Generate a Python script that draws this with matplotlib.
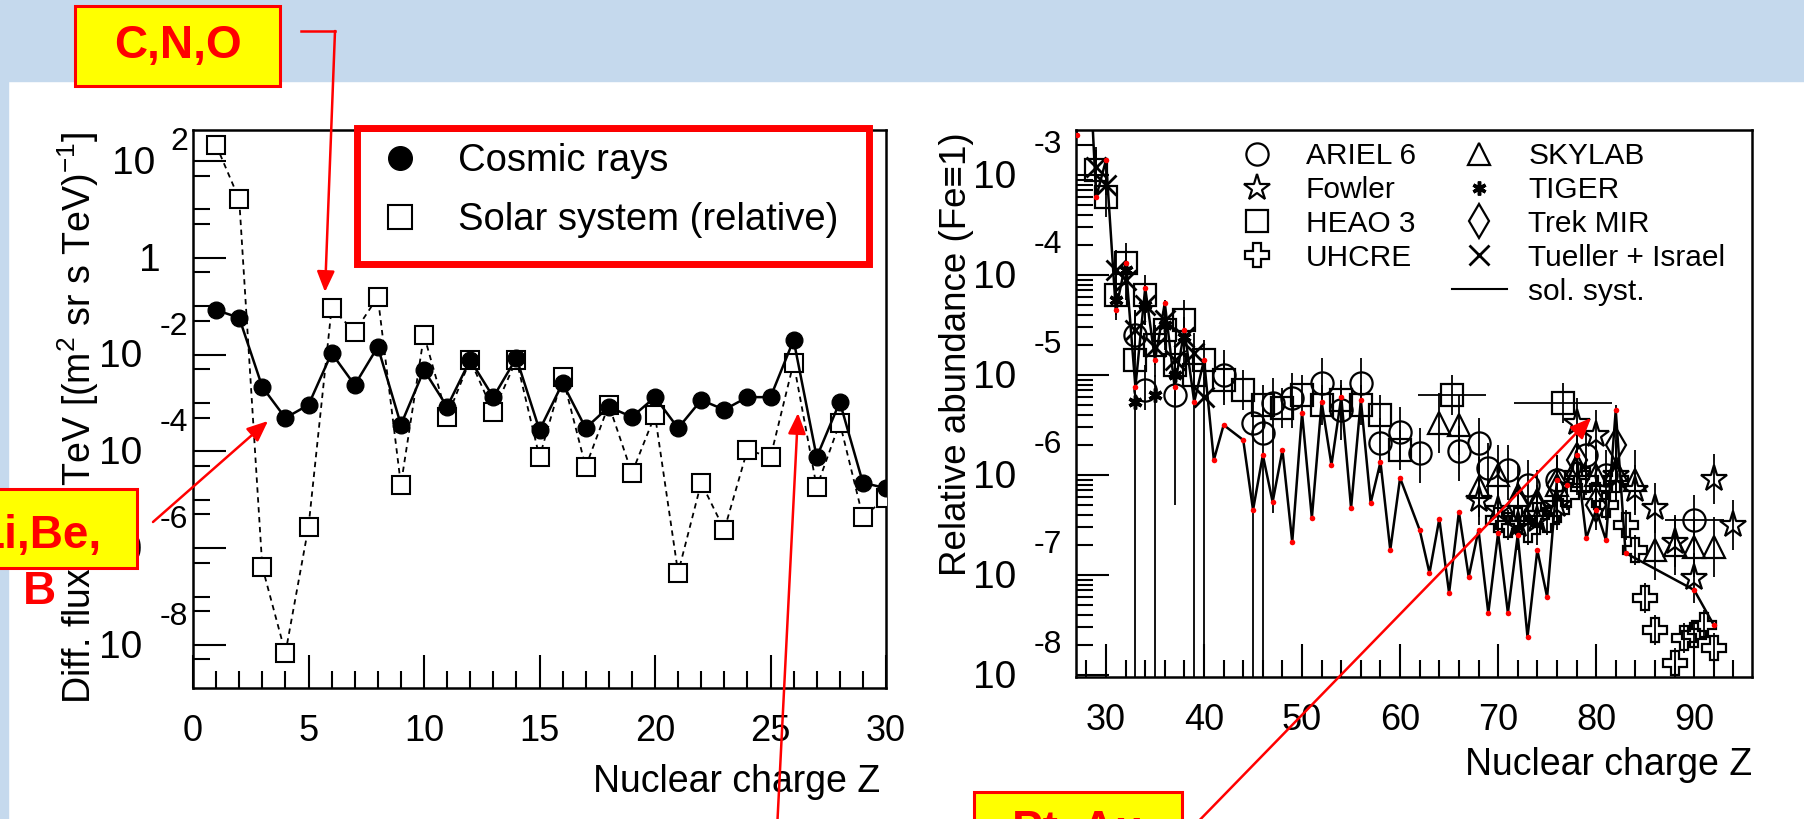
import matplotlib
matplotlib.use('Agg')
import matplotlib.pyplot as plt
import matplotlib.transforms as mtransforms
from matplotlib.patches import Rectangle, FancyArrowPatch
from matplotlib.lines import Line2D
from matplotlib.ticker import FixedLocator, MultipleLocator, NullFormatter

plt.rcParams['font.family'] = ['Liberation Sans', 'DejaVu Sans']
plt.rcParams['mathtext.fontset'] = 'custom'
plt.rcParams['mathtext.rm'] = 'Liberation Sans'
plt.rcParams['mathtext.it'] = 'Liberation Sans:italic'

W, H = 1804, 819

# ---- left panel: flux at 1 TeV (log10 values) ----
z_left = list(range(1, 31))
cosmic_log = [-1.08, -1.24, -2.67, -3.31, -3.04, -1.97, -2.63, -1.84, -3.45, -2.32,
              -3.08, -2.11, -2.88, -2.07, -3.56, -2.59, -3.52, -3.08, -3.29, -2.88,
              -3.52, -2.94, -3.14, -2.88, -2.88, -1.70, -4.12, -2.98, -4.65, -4.76]
solar_log = [2.33, 1.21, -6.39, -8.17, -5.56, -1.04, -1.53, -0.81, -4.69, -1.60,
             -3.29, -2.11, -3.19, -2.11, -4.12, -2.46, -4.32, -3.04, -4.45, -3.25,
             -6.51, -4.65, -5.62, -3.97, -4.12, -2.17, -4.74, -3.41, -5.36, -4.96]
left_decades = [2, 0, -2, -4, -6, -8]

# ---- right panel: abundance relative to Fe (log10 values) ----
sol_z = [27, 28, 29, 30, 31, 32, 33, 34, 35, 36, 37, 38, 39, 40, 41, 42, 44, 45, 46, 47,
         48, 49, 50, 51, 52, 53, 54, 55, 56, 57, 58, 59, 60, 62, 63, 64, 65, 66, 67, 68,
         69, 70, 71, 72, 73, 74, 75, 76, 77, 78, 79, 80, 81, 82, 83, 90, 92]
sol_log = [-2.60, -1.26, -3.22, -2.85, -4.35, -3.88, -5.12, -4.13, -4.85, -4.28, -5.12,
           -4.55, -5.27, -4.85, -5.85, -5.50, -5.65, -6.35, -5.80, -6.27, -5.75, -6.67,
           -5.38, -6.43, -5.27, -5.90, -5.22, -6.33, -5.25, -6.28, -5.87, -6.75, -6.03,
           -6.55, -6.98, -6.44, -7.18, -6.37, -7.02, -6.55, -7.38, -6.58, -7.38, -6.60,
           -7.62, -6.75, -7.22, -6.05, -6.10, -5.80, -6.63, -6.35, -6.65, -5.35, -6.78,
           -7.15, -7.50]

ariel_z = [33, 34, 37, 42, 45, 46, 47, 49, 52, 54, 56, 58, 60, 62, 66, 68, 69, 71, 73, 76, 79, 81, 90]
ariel_log = [-4.60, -5.15, -5.20, -5.00, -5.48, -5.58, -5.28, -5.23, -5.08, -5.35, -5.08, -5.68,
             -5.57, -5.78, -5.76, -5.68, -5.93, -5.95, -6.10, -6.05, -5.80, -6.00, -6.45]
ariel_lo = [0.2, 0.2, 1.1, 0.3, 5, 5, 1.1, 0.3, 0.2, 0.3, 0.2, 0.3, 0.3, 0.3, 0.3, 0.3, 0.3,
            0.3, 0.3, 0.3, 0.3, 0.3, 0.3]
ariel_zerr = [0] * 22 + [3]

fowler_z = [68, 70, 72, 74, 76, 78, 80, 82, 84, 86, 88, 90, 92, 94]
fowler_log = [-6.25, -6.35, -6.50, -6.45, -6.30, -5.48, -5.60, -6.00, -6.15, -6.33, -6.67,
              -7.03, -6.04, -6.50]

heao_z = [29, 30, 31, 32, 33, 34, 35, 36, 37, 38, 39, 40, 42, 44, 46, 48, 50, 52, 54, 56, 58, 60, 65.3, 76.6]
heao_log = [-2.95, -3.22, -4.20, -3.88, -4.85, -4.20, -4.70, -4.55, -4.90, -4.45, -5.00, -4.85,
            -5.05, -5.15, -5.30, -5.33, -5.20, -5.30, -5.25, -5.30, -5.40, -5.75, -5.20, -5.28]
heao_zerr = [0] * 22 + [3.5, 5.0]

uhcre_z = [70, 71, 72, 73, 74, 75, 76, 77, 78, 79, 80, 81, 82, 83, 84, 85, 86, 88, 89, 90, 91, 92]
uhcre_log = [-6.45, -6.50, -6.45, -6.55, -6.40, -6.45, -6.35, -6.20, -6.00, -6.05, -6.20, -6.30,
             -6.05, -6.50, -6.75, -7.23, -7.55, -7.88, -7.63, -7.60, -7.50, -7.73]

skylab_z = [64, 66, 68, 70, 72, 74, 76, 78, 80, 82, 84, 86, 88, 90, 92]
skylab_log = [-5.48, -5.50, -6.12, -6.00, -6.20, -6.25, -6.10, -5.90, -6.00, -5.95, -6.05,
              -6.75, -6.70, -6.72, -6.72]

tiger_z = [31, 32, 33, 34, 35, 36, 37, 38]
tiger_log = [-4.25, -3.95, -5.27, -4.30, -5.20, -4.50, -5.00, -4.62]
tiger_lo = [0.2, 0.15, 5, 0.2, 5, 0.2, 0.3, 0.2]

trek_z = [72, 74, 76, 78, 80, 82]
trek_log = [-6.30, -6.35, -6.10, -5.85, -6.30, -5.70]

tueller_z = [29, 30, 31, 32, 33, 34, 35, 36, 37, 38, 39, 40]
tueller_log = [-2.92, -3.10, -3.95, -4.05, -4.55, -4.30, -4.72, -4.45, -4.85, -4.62, -4.78, -5.22]
tueller_lo = [0.1, 0.1, 0.2, 0.2, 0.3, 0.2, 0.3, 0.25, 0.3, 0.3, 5, 5]

right_decades = [-3, -4, -5, -6, -7, -8]


def fx(x):
    return x / W


def fy(y):
    return 1 - y / H


def rect(x0, y0, x1, y1, **kw):
    r = Rectangle((fx(x0), fy(y1)), (x1 - x0) / W, (y1 - y0) / H,
                  transform=fig.transFigure, **kw)
    fig.add_artist(r)
    return r


def arrow(p0, p1):
    a = FancyArrowPatch((fx(p0[0]), fy(p0[1])), (fx(p1[0]), fy(p1[1])),
                        transform=fig.transFigure,
                        arrowstyle='-|>,head_length=0.7,head_width=0.3',
                        mutation_scale=18, color='red', lw=1.8,
                        shrinkA=0, shrinkB=0, zorder=20)
    fig.add_artist(a)


def style(ax):
    for s in ax.spines.values():
        s.set_linewidth(1.8)
    ax.tick_params(which='both', direction='in', top=False, right=False, width=1.5)
    ax.tick_params(which='major', length=24)
    ax.tick_params(which='minor', length=12)
    ax.yaxis.set_major_formatter(NullFormatter())
    ax.yaxis.set_minor_formatter(NullFormatter())


def exp_labels(ax, decades, x_exp, x_one, frame_left, frame_w, up):
    # ROOT style "10" with a raised exponent
    trans = ax.get_yaxis_transform()
    base = mtransforms.offset_copy(trans, fig=fig, x=0, y=-2, units='points')
    for e in decades:
        v = 10.0 ** e
        if e == 0:
            ax.text((x_one - frame_left) / frame_w, v, '1', transform=base,
                    ha='center', va='center', fontsize=28, clip_on=False)
            continue
        s = str(e)
        w = 13 * len(s) + 7
        ax.text((x_exp - w - 13 - frame_left) / frame_w, v, '10', transform=base,
                ha='right', va='center', fontsize=28, clip_on=False)
        dy = up if e < 0 else 19
        t2 = mtransforms.offset_copy(trans, fig=fig, x=0, y=dy * 0.72, units='points')
        ax.text((x_exp - frame_left) / frame_w, v, s, transform=t2,
                ha='right', va='center', fontsize=23, clip_on=False)


fig = plt.figure(figsize=(W / 100, H / 100), dpi=100)
fig.patch.set_facecolor('white')

# slide background
rect(0, 0, W, 81, color='#c5d9ed', zorder=-5)
rect(0, 81, 8, H, color='#c5d9ed', zorder=-5)

# ---------------- left panel ----------------
L0, T0, R0, B0 = 193, 130, 886, 688
ax1 = fig.add_axes([fx(L0), fy(B0), (R0 - L0) / W, (B0 - T0) / H])
ax1.set_xlim(0, 30)
ax1.set_yscale('log')
ax1.set_ylim(10 ** -8.89, 10 ** 2.64)
style(ax1)
ax1.xaxis.set_major_locator(MultipleLocator(5))
ax1.xaxis.set_minor_locator(MultipleLocator(1))
ax1.yaxis.set_major_locator(FixedLocator([10.0 ** e for e in left_decades]))
ax1.yaxis.set_minor_locator(FixedLocator([10.0 ** e for e in range(-9, 3) if e % 2] +
                                         [5 * 10.0 ** e for e in range(-9, 2)]))
ax1.tick_params(axis='x', labelsize=26, pad=19)

ax1.plot(z_left, [10 ** v for v in solar_log], color='k', lw=1.3, ls=(0, (3, 2.5)),
         marker='s', ms=12.5, mfc='white', mec='k', mew=1.5, zorder=3)
ax1.plot(z_left, [10 ** v for v in cosmic_log], color='k', lw=1.8,
         marker='o', ms=12, mfc='k', mec='k', zorder=4)

exp_labels(ax1, left_decades, 188, 150, L0, R0 - L0, 28)

ax1.legend(handles=[Line2D([], [], ls='none', marker='o', ms=17, mfc='k', mec='k'),
                    Line2D([], [], ls='none', marker='s', ms=17, mfc='none', mec='k', mew=1.5)],
           labels=['Cosmic rays', 'Solar system (relative)'],
           loc='upper left', bbox_to_anchor=(fx(362), fy(143)),
           bbox_transform=fig.transFigure, frameon=False, fontsize=27.5,
           handlelength=2.0, handletextpad=0.52, labelspacing=0.6,
           borderpad=0, borderaxespad=0)

fig.text(fx(78), fy(132), r'Diff. flux at 1 TeV [(m$^{2}$ sr s TeV)$^{-1}$]', rotation=90,
         rotation_mode='anchor', ha='right', va='center', fontsize=27, zorder=1)
fig.text(fx(880), fy(782), 'Nuclear charge Z', ha='right', va='center', fontsize=27)

# ---------------- right panel ----------------
L1, T1, R1, B1 = 1076, 130, 1752, 677
ax2 = fig.add_axes([fx(L1), fy(B1), (R1 - L1) / W, (B1 - T1) / H])
ax2.set_xlim(26.94, 95.9)
ax2.set_yscale('log')
ax2.set_ylim(10 ** -8.02, 10 ** -2.55)
style(ax2)
ax2.xaxis.set_major_locator(MultipleLocator(10))
ax2.xaxis.set_minor_locator(MultipleLocator(2))
ax2.yaxis.set_major_locator(FixedLocator([10.0 ** e for e in right_decades]))
ax2.yaxis.set_minor_locator(FixedLocator([m * 10.0 ** e for e in range(-9, -2) for m in range(2, 10)]))
ax2.tick_params(axis='x', labelsize=26, pad=19)
exp_labels(ax2, right_decades, 1062, 1001, L1, R1 - L1, 30)


def vals(logs):
    return [10 ** v for v in logs]


def errs(logs, lo, hi):
    v = vals(logs)
    return [[a - 10 ** (l - d) for a, l, d in zip(v, logs, lo)],
            [10 ** (l + d) - a for a, l, d in zip(v, logs, hi)]]


ax2.plot(sol_z, vals(sol_log), color='k', lw=1.8, zorder=3)
ax2.plot(sol_z, vals(sol_log), ls='none', marker='o', ms=4, mfc='red', mec='none', zorder=6)

mk = dict(ls='none', mec='k', mfc='none', mew=1.6, zorder=5)
series = [
    (ariel_z, ariel_log, ariel_lo, [0.25] * len(ariel_z), ariel_zerr, dict(marker='o', ms=16)),
    (fowler_z, fowler_log, [0.25] * len(fowler_z), [0.25] * len(fowler_z), None, dict(marker='*', ms=20)),
    (heao_z, heao_log, [0.2] * len(heao_z), [0.2] * len(heao_z), heao_zerr, dict(marker='s', ms=16)),
    (uhcre_z, uhcre_log, [0.15] * len(uhcre_z), [0.15] * len(uhcre_z), None, dict(marker='P', ms=17)),
    (skylab_z, skylab_log, [0.3] * len(skylab_z), [0.3] * len(skylab_z), None, dict(marker='^', ms=16)),
    (tiger_z, tiger_log, tiger_lo, [0.2] * len(tiger_z), None, dict(marker=(6, 2, 0), ms=10, mew=2.5)),
    (trek_z, trek_log, [0.25] * len(trek_z), [0.25, 0.25, 0.25, 0.25, 0.25, 0.4], None, dict(marker='d', ms=17)),
    (tueller_z, tueller_log, tueller_lo, [0.2] * len(tueller_z), None, dict(marker='x', ms=15, mew=2)),
]
handles = []
for z, lg, lo, hi, ze, m in series:
    ax2.errorbar(z, vals(lg), yerr=errs(lg, lo, hi), xerr=ze, fmt='none', ecolor='k',
                 elinewidth=1.3, capsize=0, zorder=4)
    kw = dict(mk)
    kw.update(m)
    ax2.plot(z, vals(lg), **kw)
    handles.append(Line2D([], [], **kw))

blank = Line2D([], [], ls='none', marker='none')
sol_h = Line2D([], [], color='k', lw=1.5)
leg_handles = handles[:4] + [blank] + handles[4:] + [sol_h]
leg_labels = ['ARIEL 6', 'Fowler', 'HEAO 3', 'UHCRE', '',
              'SKYLAB', 'TIGER', 'Trek MIR', 'Tueller + Israel', 'sol. syst.']
ax2.legend(leg_handles, leg_labels, ncol=2, loc='upper left',
           bbox_to_anchor=(fx(1229), fy(142)), bbox_transform=fig.transFigure,
           frameon=False, fontsize=21.5, handlelength=1.85, handletextpad=0.72,
           columnspacing=1.2, labelspacing=0.2, borderpad=0, borderaxespad=0)

fig.text(fx(957), fy(132), 'Relative abundance (Fe\u22611)', rotation=90,
         rotation_mode='anchor', ha='right', va='center', fontsize=26.5)
fig.text(fx(1752), fy(765), 'Nuclear charge Z', ha='right', va='center', fontsize=27)

# ---------------- slide annotations ----------------
rect(357, 128, 869, 264, fill=False, ec='red', lw=5, zorder=10)

rect(75, 6, 280, 86, fc='#ffff00', ec='red', lw=2.2, zorder=10)
fig.text(fx(178), fy(46), 'C,N,O', ha='center', va='center', fontsize=33,
         fontweight='bold', color='red', zorder=11)
fig.add_artist(Line2D([fx(301), fx(335)], [fy(31), fy(31)], transform=fig.transFigure,
                      color='red', lw=1.8, zorder=20))
arrow((335, 31), (325, 292))

rect(-5, 489, 137, 568, fc='#ffff00', ec='red', lw=2.2, zorder=10)
fig.text(fx(39), fy(564), 'Li,Be,\nB', ha='center', va='center', fontsize=33,
         fontweight='bold', color='red', linespacing=1.38, zorder=11)
arrow((153, 522), (268, 421))

arrow((777, 830), (798, 413))

rect(974, 792, 1182, 850, fc='#ffff00', ec='red', lw=2.2, zorder=10)
fig.text(fx(1078), fy(843), 'Pt, Au', ha='center', va='baseline', fontsize=33,
         fontweight='bold', color='red', zorder=11)
arrow((1190, 830), (1591, 418))

fig.savefig('out.png', dpi=100)
